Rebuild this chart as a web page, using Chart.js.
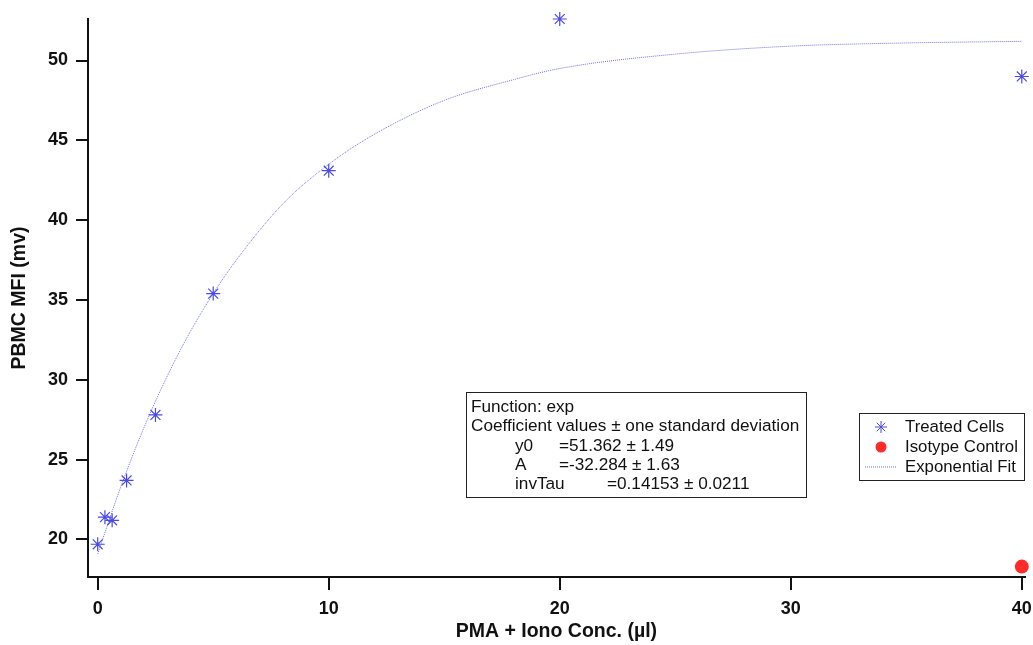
<!DOCTYPE html>
<html>
<head>
<meta charset="utf-8">
<script src="https://cdn.jsdelivr.net/npm/chart.js@4/dist/chart.umd.min.js"></script>
<style>
  html, body { margin: 0; padding: 0; background: #fff; }
  #wrap { width: 1033px; height: 645px; }
</style>
</head>
<body>
<div id="wrap"><canvas id="chart-mfi"></canvas></div>
<script>
const treatedConc = [0, 0.3125, 0.625, 1.25, 2.5, 5, 10, 20, 40];
const treatedMfi = [19.7, 21.4, 21.2, 23.7, 27.8, 35.4, 43.1, 52.6, 49.0];

const isotypeConc = [40];
const isotypeMfi = [18.3];

const fitConc = [0, 1, 2, 3, 4, 5, 6, 8, 10, 12, 15, 18, 20, 25, 30, 35, 40];
const fitMfi = [19.1, 23.3, 27.0, 30.2, 33.0, 35.4, 37.5, 41.0, 43.5, 45.4, 47.5, 48.8, 49.5, 50.4, 50.9, 51.1, 51.2];

const xTicks = [0, 10, 20, 30, 40];
const yTicks = [20, 25, 30, 35, 40, 45, 50];

const fitText = [
  ["Function: exp", ""],
  ["Coefficient values \u00b1 one standard deviation", ""],
  ["y0", "=51.362 \u00b1 1.49"],
  ["A", "=-32.284 \u00b1 1.63"],
  ["invTau", "=0.14153 \u00b1 0.0211"],
];

const legendLabels = ["Treated Cells", "Isotype Control", "Exponential Fit"];

const toXY = (xs, ys) => xs.map((x, i) => ({ x: x, y: ys[i] }));

const FONT = "'Liberation Sans', Arial, sans-serif";
const ctx = document.querySelector("#chart-mfi").getContext("2d");

const boxesPlugin = {
  id: "boxes",
  afterDraw(chart) {
    const c = chart.ctx;
    c.save();
    // fit results box
    c.strokeStyle = "#222";
    c.lineWidth = 1;
    c.strokeRect(466.5, 392.5, 340, 105);
    c.fillStyle = "#111";
    c.font = "17.2px " + FONT;
    c.textBaseline = "middle";
    c.textAlign = "left";
    c.fillText(fitText[0][0], 471, 407);
    c.fillText(fitText[1][0], 471, 426);
    c.fillText(fitText[2][0], 515, 446);
    c.fillText(fitText[2][1], 559, 446);
    c.fillText(fitText[3][0], 515, 465);
    c.fillText(fitText[3][1], 559, 465);
    c.fillText(fitText[4][0], 515, 484);
    c.fillText(fitText[4][1], 607, 484);

    // legend box
    c.strokeRect(859.5, 413.5, 165, 67);
    c.font = "16.8px " + FONT;
    const rows = [427, 447, 467];
    legendLabels.forEach((t, i) => c.fillText(t, 905, rows[i]));
    const ds = chart.data.datasets;
    c.strokeStyle = ds[0].borderColor;
    c.lineWidth = 1;
    Chart.helpers.drawPoint(c, { pointStyle: "star", radius: 6, borderWidth: 1 }, 881, rows[0]);
    c.beginPath();
    c.fillStyle = ds[1].backgroundColor;
    c.arc(881, rows[1], 5.5, 0, Math.PI * 2);
    c.fill();
    c.beginPath();
    c.strokeStyle = ds[2].borderColor;
    c.setLineDash([1, 1]);
    c.moveTo(865, rows[2]);
    c.lineTo(896, rows[2]);
    c.stroke();
    c.restore();
  },
};

new Chart(ctx, {
  type: "scatter",
  data: {
    datasets: [
      {
        label: legendLabels[0],
        data: toXY(treatedConc, treatedMfi),
        pointStyle: "star",
        radius: 7,
        borderWidth: 1.2,
        borderColor: "#4a4ae8",
        backgroundColor: "#4a4ae8",
        clip: false,
        order: 1,
      },
      {
        label: legendLabels[1],
        data: toXY(isotypeConc, isotypeMfi),
        pointStyle: "circle",
        radius: 7,
        borderWidth: 0,
        backgroundColor: "#ff2a2a",
        borderColor: "#ff2a2a",
        clip: false,
        order: 0,
      },
      {
        label: legendLabels[2],
        type: "line",
        data: toXY(fitConc, fitMfi),
        borderColor: "#7070e8",
        borderWidth: 1,
        borderDash: [1, 1],
        cubicInterpolationMode: "monotone",
        pointRadius: 0,
        fill: false,
        order: 2,
      },
    ],
  },
  options: {
    animation: false,
    responsive: true,
    maintainAspectRatio: false,
    layout: { padding: { top: 19, right: 0, left: 0, bottom: 0 } },
    plugins: {
      legend: { display: false },
      tooltip: { enabled: false },
    },
    scales: {
      x: {
        type: "linear",
        min: -0.42,
        max: 40.13,
        afterBuildTicks: (s) => { s.ticks = xTicks.map((v) => ({ value: v })); },
        afterFit: (s) => { s.height = 68; s.paddingRight = 5; s.paddingLeft = 0; },
        border: { display: true, color: "#111", width: 2 },
        grid: { drawOnChartArea: false, drawTicks: true, tickLength: 13, color: "#111", lineWidth: 2 },
        ticks: {
          color: "#111",
          padding: 8,
          font: { family: FONT, size: 18, weight: "bold" },
        },
        title: {
          display: true,
          text: "PMA + Iono Conc. (\u00b5l)",
          color: "#111",
          padding: { top: 0, bottom: 2 },
          font: { family: FONT, size: 19.5, weight: "bold" },
        },
      },
      y: {
        type: "linear",
        min: 17.65,
        max: 52.6,
        afterBuildTicks: (s) => { s.ticks = yTicks.map((v) => ({ value: v })); },
        afterFit: (s) => { s.width = 88; },
        border: { display: true, color: "#111", width: 2 },
        grid: { drawOnChartArea: false, drawTicks: true, tickLength: 12, color: "#111", lineWidth: 2 },
        ticks: {
          color: "#111",
          padding: 8,
          font: { family: FONT, size: 18, weight: "bold" },
        },
        title: {
          display: true,
          text: "PBMC MFI (mv)",
          color: "#111",
          padding: { top: 8, bottom: 0 },
          font: { family: FONT, size: 19.5, weight: "bold" },
        },
      },
    },
  },
  plugins: [boxesPlugin],
});
</script>
</body>
</html>
